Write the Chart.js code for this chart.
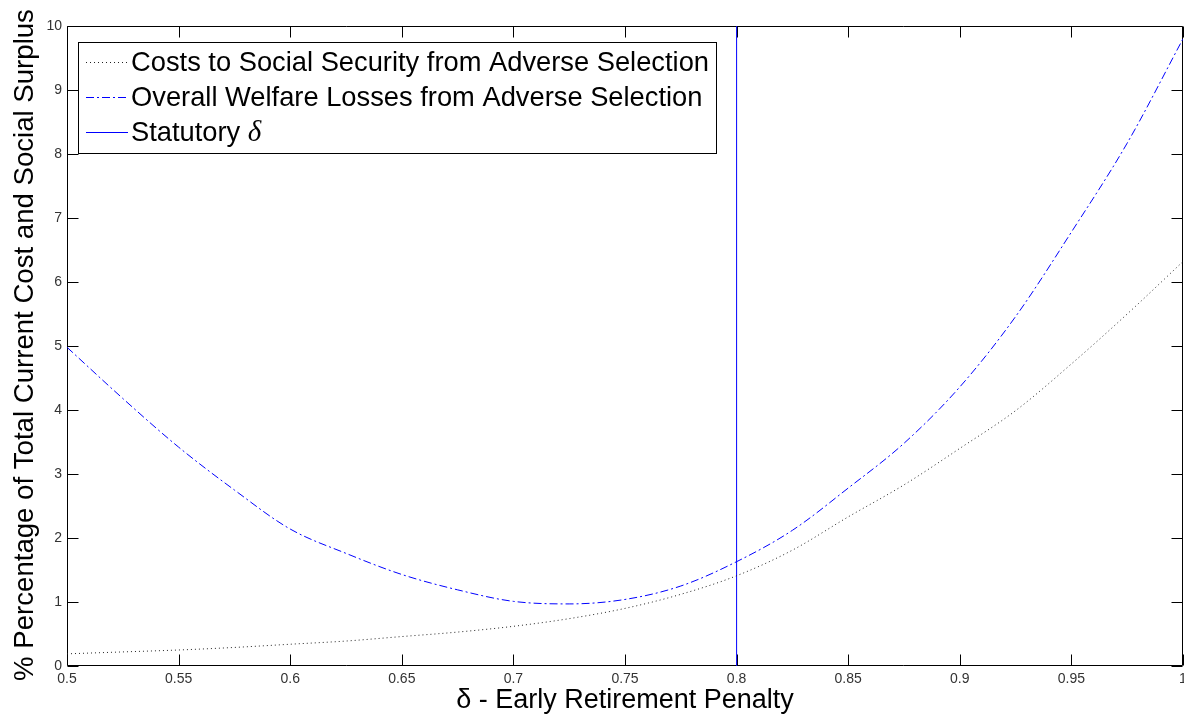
<!DOCTYPE html>
<html>
<head>
<meta charset="utf-8">
<script src="https://cdn.jsdelivr.net/npm/chart.js@4/dist/chart.umd.min.js"></script>
<style>
  html, body { margin: 0; padding: 0; background: #ffffff; }
  #wrap { width: 1184px; height: 717px; position: relative; }
</style>
</head>
<body>
<div id="wrap"><canvas id="c" width="1184" height="717"></canvas></div>
<script>
// Early retirement penalty (delta) grid
const deltaValues = [0.5, 0.525, 0.55, 0.575, 0.6, 0.625, 0.65, 0.675, 0.7, 0.725, 0.75,
                     0.775, 0.8, 0.825, 0.85, 0.875, 0.9, 0.925, 0.95, 0.975, 1.0];
// Costs to Social Security from adverse selection (%)
const costValues = [0.19, 0.22, 0.25, 0.29, 0.34, 0.39, 0.46, 0.53, 0.62, 0.74, 0.90,
                    1.12, 1.41, 1.81, 2.33, 2.83, 3.40, 3.99, 4.72, 5.50, 6.32];
// Overall welfare losses from adverse selection (%)
const welfareValues = [4.98, 4.18, 3.42, 2.75, 2.14, 1.76, 1.43, 1.19, 1.01, 0.97, 1.04,
                       1.25, 1.63, 2.12, 2.78, 3.48, 4.36, 5.46, 6.78, 8.17, 9.80];
// Statutory delta
const statutoryDelta = 0.8;

const seriesLabels = ['Costs to Social Security from Adverse Selection',
                      'Overall Welfare Losses from Adverse Selection',
                      'Statutory '];
const xTickValues = [0.5, 0.55, 0.6, 0.65, 0.7, 0.75, 0.8, 0.85, 0.9, 0.95, 1];
const yTickValues = [0, 1, 2, 3, 4, 5, 6, 7, 8, 9, 10];
const xTitle = 'δ - Early Retirement Penalty';
const yTitle = '% Percentage of Total Current Cost and Social Surplus';

const SANS = '"Liberation Sans", Arial, sans-serif';
const NARROW = '"Liberation Sans Narrow", "Liberation Sans", Arial, sans-serif';
const SERIF = '"Liberation Serif", "Times New Roman", serif';
const BLUE = '#0000ff';
const DASHDOT = [8, 3, 2, 3];
const DOTTED = [1, 3];

const pts = (ys) => deltaValues.map((x, i) => ({ x: x, y: ys[i] }));

// Box frame with inward ticks (under the curves)
const framePlugin = {
  id: 'frame',
  beforeDatasetsDraw(chart) {
    const ctx = chart.ctx;
    const a = chart.chartArea;
    const xs = chart.scales.x, ys = chart.scales.y;
    const L = Math.round(a.left) + 0.5, R = Math.round(a.right) - 0.5;
    const T = Math.round(a.top) + 0.5, B = Math.round(a.bottom) - 0.5;
    const tick = 11;
    ctx.save();
    ctx.strokeStyle = '#000';
    ctx.lineWidth = 1;
    ctx.setLineDash([]);
    ctx.beginPath();
    ctx.rect(L, T, R - L, B - T);
    xTickValues.forEach(v => {
      const px = Math.round(xs.getPixelForValue(v)) + 0.5;
      ctx.moveTo(px, B); ctx.lineTo(px, B - tick);
      ctx.moveTo(px, T); ctx.lineTo(px, T + tick);
    });
    yTickValues.forEach(v => {
      const py = Math.round(ys.getPixelForValue(v)) + 0.5;
      ctx.moveTo(L, py); ctx.lineTo(L + tick, py);
      ctx.moveTo(R, py); ctx.lineTo(R - tick, py);
    });
    ctx.stroke();
    ctx.restore();
  },
  // axis titles and the in-plot legend
  afterDatasetsDraw(chart) {
    const ctx = chart.ctx;
    const a = chart.chartArea;
    ctx.save();
    ctx.fillStyle = '#000';
    ctx.textAlign = 'center';
    ctx.textBaseline = 'middle';
    ctx.font = '27px ' + SANS;
    ctx.fillText(xTitle, (a.left + a.right) / 2, 701);
    ctx.save();
    ctx.translate(25, 345);
    ctx.rotate(-Math.PI / 2);
    ctx.font = '27.6px ' + SANS;
    ctx.fillText(yTitle, 0, 0);
    ctx.restore();

    const bx = 78.5, by = 42.5, bw = 638, bh = 111;
    ctx.fillStyle = '#fff';
    ctx.fillRect(bx, by, bw, bh);
    ctx.strokeStyle = '#000';
    ctx.lineWidth = 1;
    ctx.strokeRect(bx, by, bw, bh);
    const rows = [62, 97, 132];
    const ds = chart.data.datasets;
    rows.forEach((ry, i) => {
      const d = ds[i];
      ctx.beginPath();
      ctx.strokeStyle = d.borderColor;
      ctx.setLineDash(d.borderDash || []);
      ctx.moveTo(86, ry + 0.5);
      ctx.lineTo(128, ry + 0.5);
      ctx.stroke();
      ctx.setLineDash([]);
      ctx.fillStyle = '#000';
      ctx.textAlign = 'left';
      ctx.textBaseline = 'middle';
      ctx.font = '27.3px ' + SANS;
      ctx.fillText(d.label, 131, ry + 1);
      if (i === 2) {
        const w = ctx.measureText(d.label).width;
        ctx.font = 'italic 29px ' + SERIF;
        ctx.fillText('δ', 131 + w, ry + 1);
      }
    });
    ctx.restore();
  }
};

const noEdgePadding = (scale) => {
  scale.paddingLeft = 0; scale.paddingRight = 0;
  scale.paddingTop = 0; scale.paddingBottom = 0;
};

new Chart(document.getElementById('c'), {
  type: 'line',
  data: {
    datasets: [
      {
        label: seriesLabels[0],
        data: pts(costValues),
        borderColor: '#222222',
        borderWidth: 1,
        borderDash: DOTTED,
        pointRadius: 0,
        cubicInterpolationMode: 'monotone',
        fill: false
      },
      {
        label: seriesLabels[1],
        data: pts(welfareValues),
        borderColor: BLUE,
        borderWidth: 1,
        borderDash: DASHDOT,
        pointRadius: 0,
        cubicInterpolationMode: 'monotone',
        fill: false
      },
      {
        label: seriesLabels[2],
        data: [{ x: statutoryDelta, y: yTickValues[0] }, { x: statutoryDelta, y: yTickValues[yTickValues.length - 1] }],
        borderColor: BLUE,
        borderWidth: 1,
        pointRadius: 0,
        fill: false
      }
    ]
  },
  options: {
    responsive: false,
    animation: false,
    events: [],
    layout: { padding: { top: 26, right: 1, left: 0, bottom: 0 } },
    plugins: {
      legend: { display: false },
      tooltip: { enabled: false },
      title: { display: false }
    },
    scales: {
      x: {
        type: 'linear',
        min: 0.5,
        max: 1,
        afterFit(scale) { scale.height = 51; noEdgePadding(scale); },
        afterBuildTicks(scale) { scale.ticks = xTickValues.map(v => ({ value: v })); },
        grid: { display: false, drawTicks: false },
        border: { display: false },
        ticks: {
          padding: 5,
          maxRotation: 0,
          autoSkip: false,
          color: '#333',
          font: { family: NARROW, size: 14 },
          callback: (v) => String(v)
        }
      },
      y: {
        type: 'linear',
        min: 0,
        max: 10,
        afterFit(scale) { scale.width = 67; noEdgePadding(scale); },
        afterBuildTicks(scale) { scale.ticks = yTickValues.map(v => ({ value: v })); },
        grid: { display: false, drawTicks: false },
        border: { display: false },
        ticks: {
          padding: 5,
          color: '#333',
          font: { family: NARROW, size: 14 },
          callback: (v) => String(v)
        }
      }
    }
  },
  plugins: [framePlugin]
});
</script>
</body>
</html>
